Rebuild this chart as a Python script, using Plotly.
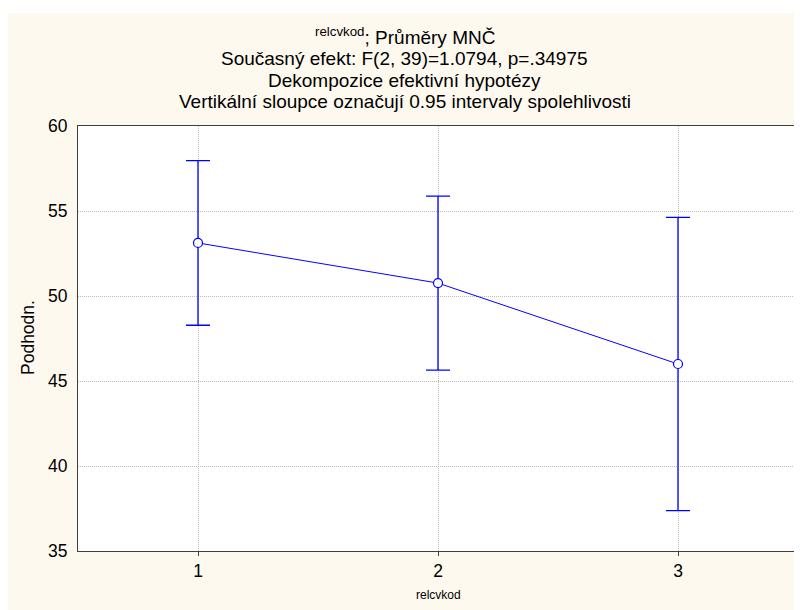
import plotly.graph_objects as go

# ---- data ----
categories = [1, 2, 3]
means = [53.12, 50.76, 46.00]
ci_half = [4.84, 5.12, 8.62]
y_ticks = [35, 40, 45, 50, 55, 60]
title_lines = [
    "<sup>relcvkod</sup>; Průměry MNČ",
    "Současný efekt: F(2, 39)=1.0794, p=.34975",
    "Dekompozice efektivní hypotézy",
    "Vertikální sloupce označují 0.95 intervaly spolehlivosti",
]
x_title = "relcvkod"
y_title = "Podhodn."

# ---- layout geometry ----
# the page body has an 8px margin, so the figure starts at (8, 8) in the window
OFF = 8
W, H = 802 - OFF, 610 - OFF
# plot-area edges in window pixels
L_pg, R_pg, T_pg, B_pg = 78, 798, 126, 551
L, R, T, B = L_pg - OFF, R_pg - OFF, T_pg - OFF, B_pg - OFF
pw, ph = R - L, B - T


def px(x_page):
    return (x_page - OFF - L) / pw


def py(y_page):
    return (B - (y_page - OFF)) / ph


FONT = "Liberation Sans, Arial, sans-serif"
BLUE = "#0000FF"
CREAM = "#FEF9EF"
GRID = "#BDBDBD"

fig = go.Figure()
fig.add_trace(go.Scatter(
    x=categories, y=means, mode="lines+markers",
    line=dict(color=BLUE, width=1),
    marker=dict(symbol="circle", size=9, color="white", line=dict(color=BLUE, width=1.2)),
    error_y=dict(type="data", array=ci_half, visible=True, color=BLUE, thickness=1.3, width=12),
    showlegend=False, cliponaxis=False,
))

shapes = [
    # white strip on top of the cream background
    dict(type="rect", xref="paper", yref="paper", x0=px(0), x1=px(810), y0=py(13), y1=py(0),
         fillcolor="white", line=dict(width=0), layer="below"),
]

title_y = [36, 58, 80, 101]
annotations = []
for txt, yy in zip(title_lines, title_y):
    annotations.append(dict(text=txt, xref="paper", yref="paper", x=px(404.5), y=py(yy),
                            xanchor="center", yanchor="middle", showarrow=False,
                            font=dict(family=FONT, size=19, color="black")))
annotations.append(dict(text=x_title, xref="paper", yref="paper", x=px(438), y=py(595),
                        xanchor="center", yanchor="middle", showarrow=False,
                        font=dict(family=FONT, size=12, color="black")))
annotations.append(dict(text=y_title, xref="paper", yref="paper", x=px(28), y=py(338),
                        xanchor="center", yanchor="middle", showarrow=False, textangle=-90,
                        font=dict(family=FONT, size=17.5, color="black")))

fig.update_layout(
    width=W, height=H,
    margin=dict(l=L, r=W - R, t=T, b=H - B, pad=0),
    paper_bgcolor=CREAM, plot_bgcolor="white",
    font=dict(family=FONT, size=17.5, color="black"),
    shapes=shapes, annotations=annotations,
    xaxis=dict(range=[0.5, 3.5], tickvals=categories, ticktext=[str(c) for c in categories],
               showgrid=True, gridcolor=GRID, griddash="1px,1px", gridwidth=1,
               showline=True, linecolor="#404040", linewidth=1, mirror=True,
               ticks="outside", ticklen=4, tickcolor="#404040", zeroline=False,
               tickfont=dict(size=17.5), automargin=False),
    yaxis=dict(range=[35, 60], tickvals=y_ticks,
               showgrid=True, gridcolor=GRID, griddash="1px,1px", gridwidth=1,
               showline=True, linecolor="#404040", linewidth=1, mirror=True,
               ticks="", zeroline=False, ticklabelstandoff=6,
               tickfont=dict(size=17.5), automargin=False),
)

fig.write_html("out.html")
